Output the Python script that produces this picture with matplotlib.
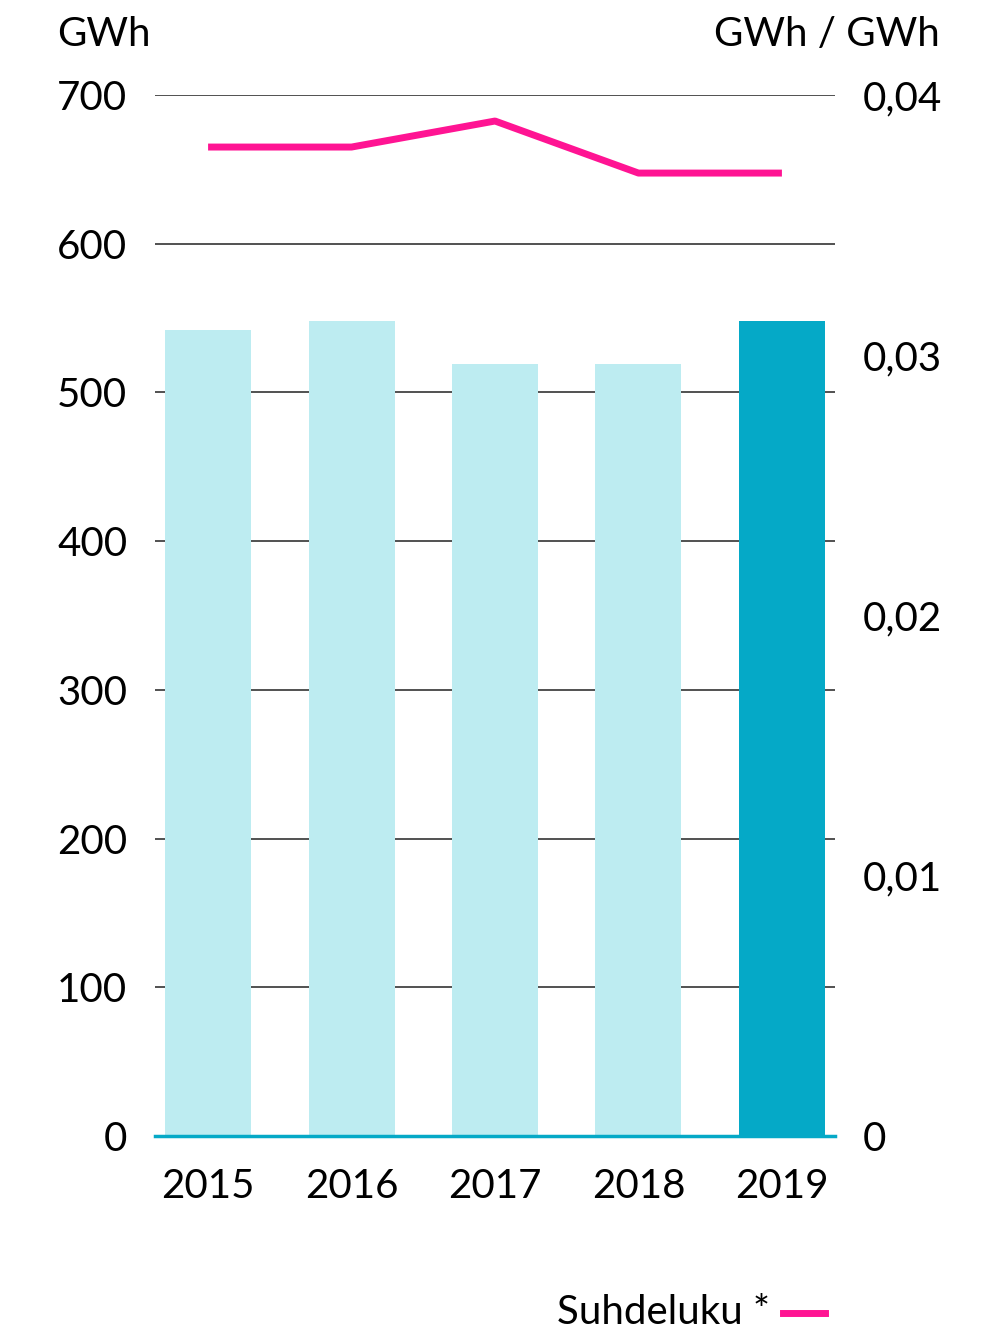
import matplotlib.pyplot as plt
from matplotlib.lines import Line2D

years = ['2015', '2016', '2017', '2018', '2019']
energy = [542, 548, 519, 519, 548]          # GWh, bars
ratio = [0.0380, 0.0380, 0.0390, 0.0370, 0.0370]  # GWh / GWh, line
left_ticks = [0, 100, 200, 300, 400, 500, 600, 700]
right_ticks = [0, 0.01, 0.02, 0.03, 0.04]
right_labels = ['0', '0,01', '0,02', '0,03', '0,04']

light = '#bdecf1'
dark = '#05a9c7'
pink = '#ff1493'
fs = 29

plt.rcParams['font.family'] = ['Lato', 'DejaVu Sans']

fig = plt.figure(figsize=(9.95, 13.32), dpi=100)
ax = fig.add_axes([155/995, 1-1136/1332, 680/995, 1041/1332])
ax2 = ax.twinx()

x = list(range(len(years)))
colors = [light]*4 + [dark]
ax.bar(x, energy, width=0.6, color=colors, zorder=2)
ax.set_ylim(0, 700)
ax.set_xlim(-0.37, 4.37)
ax.set_yticks(left_ticks)
ax.set_yticklabels([str(t) for t in left_ticks])
ax.grid(axis='y', color='#333333', linewidth=1.2, zorder=0)
ax.set_axisbelow(True)
ax.set_xticks(x)
ax.set_xticklabels(years)
ax.tick_params(axis='both', length=0, labelsize=fs, colors='black')
ax.tick_params(axis='y', pad=20)
ax.tick_params(axis='x', pad=23)

ax2.plot(x, ratio, color=pink, linewidth=5, solid_capstyle='butt', zorder=3)
ax2.set_ylim(0, 0.04)
ax2.set_yticks(right_ticks)
ax2.set_yticklabels(right_labels)
ax2.tick_params(axis='y', length=0, labelsize=fs, pad=20)

for a in (ax, ax2):
    for s in ['top', 'left', 'right', 'bottom']:
        a.spines[s].set_visible(False)
ax.spines['bottom'].set_visible(True)
ax.spines['bottom'].set_color(dark)
ax.spines['bottom'].set_linewidth(2.5)
ax.spines['bottom'].set_zorder(4)

fig.text(57/995, 1-35/1332, 'GWh', fontsize=fs, ha='left', va='center')
fig.text(940/995, 1-35/1332, 'GWh / GWh', fontsize=fs, ha='right', va='center')

fig.text(770/995, 1-1313/1332, 'Suhdeluku *', fontsize=fs, ha='right', va='center')
fig.add_artist(Line2D([783/995, 825/995], [1-1313/1332, 1-1313/1332],
                      color=pink, linewidth=5, transform=fig.transFigure))

fig.savefig('out.png', dpi=100)
